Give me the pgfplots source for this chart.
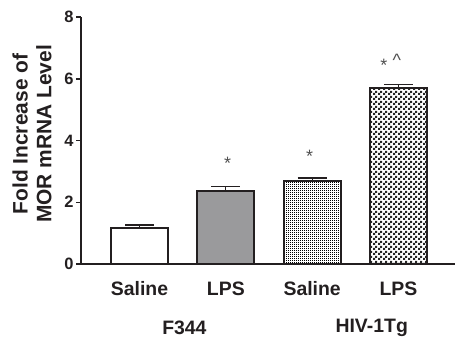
\documentclass[border=0pt]{standalone}
\usepackage{fontspec}
\setmainfont{Liberation Sans}
\usepackage{pgfplots}
\pgfplotsset{compat=1.18}
\usetikzlibrary{patterns.meta}
\definecolor{txt}{HTML}{231F20}
\definecolor{midgray}{HTML}{9A9A9C}
\definecolor{stargray}{HTML}{505050}
\tikzdeclarepattern{
  name=finedots, type=uncolored,
  bounding box={(0,0) and (2bp,2bp)},
  tile size={(2bp,2bp)},
  code={\fill (0,0) rectangle (1.25bp,1.25bp);}
}
\tikzdeclarepattern{
  name=finechecker, type=uncolored,
  bounding box={(0,0) and (4.6bp,4.6bp)},
  tile size={(4.6bp,4.6bp)},
  code={\fill (0,0) rectangle (2.3bp,2.3bp); \fill (2.3bp,2.3bp) rectangle (4.6bp,4.6bp);}
}
\begin{document}
\begin{tikzpicture}[x=1bp,y=1bp]
\useasboundingbox (0,0) rectangle (455,338);
\begin{axis}[
  at={(81bp,74bp)}, anchor=south west,
  scale only axis, width=374bp, height=247bp,
  xmin=-0.678, xmax=3.655, ymin=0, ymax=8,
  axis lines*=left,
  axis line style={line width=1.8bp, draw=txt},
  clip=false,
  ytick={0,2,4,6,8}, yticklabels={0,2,4,6,8},
  xtick={0,1,2,3}, xticklabels={Saline,LPS,Saline,LPS},
  tick align=outside,
  major tick length=5bp,
  y tick style={line width=1.5bp, draw=txt},
  x tick style={draw=none},
  yticklabel style={font=\bfseries\fontsize{16.5}{16.5}\selectfont, text=txt, xshift=1bp},
  xticklabel style={font=\bfseries\fontsize{19.5}{19.5}\selectfont, text=txt, yshift=-9bp},
  every axis plot/.append style={ybar, bar width=0.66, bar shift=0, draw=txt, line width=1.8bp,
    error bars/y dir=plus, error bars/y explicit,
    error bars/error bar style={line width=1.3bp, draw=txt},
    error bars/error mark options={rotate=90, line width=1.3bp, mark size=14.5bp, draw=txt}},
]
\addplot[fill=white] coordinates {(0,1.17) +- (0,0.09)};
\addplot[fill=midgray] coordinates {(1,2.36) +- (0,0.14)};
\addplot[pattern={finedots}, pattern color=black] coordinates {(2,2.69) +- (0,0.10)};
\addplot[pattern={finechecker}, pattern color=black!85] coordinates {(3,5.71) +- (0,0.11)};
\node[text=stargray, font=\fontsize{18}{18}\selectfont, inner sep=0, anchor=north] at (axis cs:1.02,3.48) {*};
\node[text=stargray, font=\fontsize{18}{18}\selectfont, inner sep=0, anchor=north] at (axis cs:1.97,3.70) {*};
\node[text=stargray, font=\fontsize{18}{18}\selectfont, inner sep=0, anchor=north] at (axis cs:2.83,6.65) {*};
\node[text=stargray, font=\fontsize{18}{18}\selectfont, inner sep=0, anchor=north] at (axis cs:2.98,6.80) {\textasciicircum};
\node[text=txt, font=\bfseries\fontsize{19.5}{19.5}\selectfont] at (axis cs:0.52,-2.07) {F344};
\node[text=txt, font=\bfseries\fontsize{19.5}{19.5}\selectfont] at (axis cs:2.69,-2.07) {HIV-1Tg};
\end{axis}
\node[rotate=90, align=center, text=txt, font=\bfseries\fontsize{21}{24}\selectfont] at (32,204) {Fold Increase of\\MOR mRNA Level};
\end{tikzpicture}
\end{document}
